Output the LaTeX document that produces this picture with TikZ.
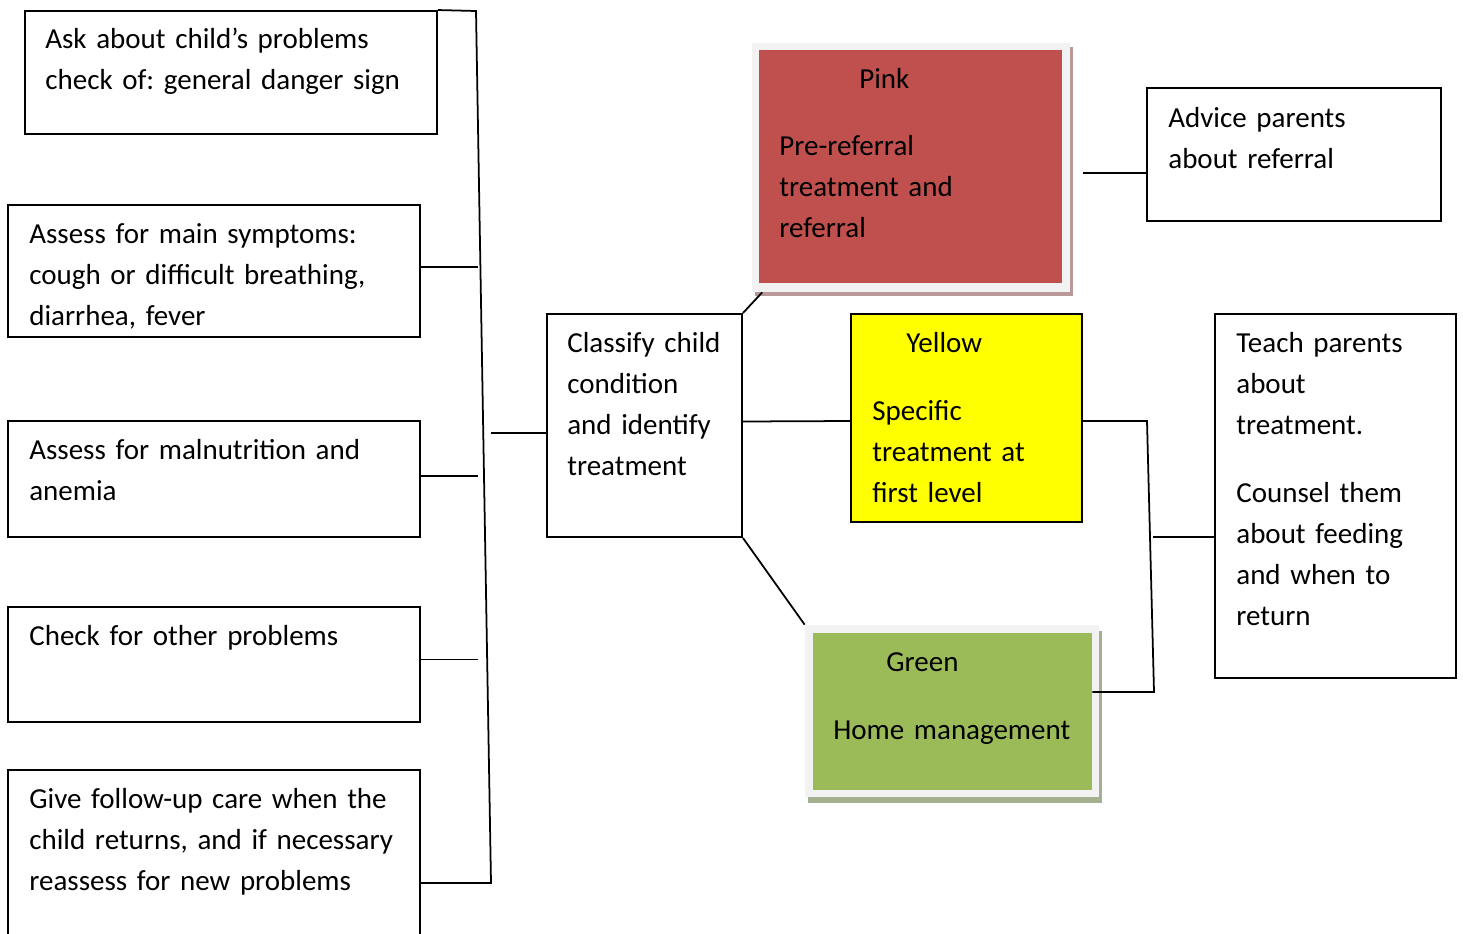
\documentclass[tikz,border=0pt]{standalone}
\usepackage{fontspec}
\setmainfont[WordSpace=0.85]{Carlito}
\usetikzlibrary{fit}

\definecolor{pinkred}{HTML}{C0504D}
\definecolor{pinkshade}{RGB}{184,152,152}
\definecolor{greenfill}{HTML}{9BBB59}
\definecolor{greenshade}{RGB}{165,176,145}
\definecolor{framegray}{HTML}{F2F2F2}
\definecolor{pureyellow}{HTML}{FFFF00}

\tikzset{
    box/.style={draw, line width=1.1pt, inner sep=0pt},
    plainbox/.style={inner sep=0pt},
    txt/.style={anchor=base west, inner sep=0pt, align=left, text width=12cm,
        font=\fontsize{16.5}{23.5}\selectfont\frenchspacing},
    link/.style={line width=1pt}
}

\begin{document}
\begin{tikzpicture}[x=0.02cm, y=-0.02cm]
            \useasboundingbox (0,0) rectangle (1463,933);

            % Left column
            \node[box, fit={(25,11) (437,134)}] (ask) {};
            \node[box, fit={(8,205) (420,337)}] (symptoms) {};
            \node[box, fit={(8,421) (420,537)}] (malnut) {};
            \node[box, fit={(8,607) (420,722)}] (other) {};
            \node[box, fit={(8,770) (420,950)}] (followup) {};

            \node[txt] (askT) at (45,48) {Ask about child’s problems\\check of: general danger sign};
            \node[txt] (symptomsT) at (29,243) {Assess for main symptoms:\\cough or difficult breathing,\\diarrhea, fever};
            \node[txt] (malnutT) at (29,459) {Assess for malnutrition and\\anemia};
            \node[txt] (otherT) at (29,645) {Check for other problems};
            \node[txt] (followupT) at (29,808) {Give follow-up care when the\\child returns, and if necessary\\reassess for new problems};

            % Left bracket
            \coordinate (btop) at (476,11);
            \coordinate (bbot) at (491,883);
            \coordinate (bmid) at (491,433);
            \draw[link] (ask.north east) -- (btop) -- (bbot) -- (followup.east |- bbot);
            \draw[link] (symptoms.east) ++(0,-4) -- ++(57,0);
            \draw[link] (malnut.east) ++(0,-3) -- ++(57,0);
            \draw[link] (other.east) ++(0,-5) -- ++(57,0);

            % Middle
            \node[box, fit={(547,314) (742,537)}] (classify) {};
            \node[txt] (classifyT) at (567,352) {Classify child\\condition\\and identify\\treatment};
            \draw[link] (bmid) -- (bmid -| classify.west);

            % Pink
            \fill[pinkshade] (755,47) rectangle (1073,296);
            \node[plainbox, fill=framegray, fit={(752,43) (1070,292)}] (pink) {};
            \fill[pinkred] (759,50) rectangle (1062,283);
            \node[txt] (pinkH) at (859,88) {Pink};
            \node[txt] (pinkT) at (779,155) {Pre-referral\\treatment and\\referral};

            % Yellow
            \node[box, fill=pureyellow, fit={(851,314) (1082,522)}] (yellow) {};
            \node[txt] (yellowH) at (906,352) {Yellow};
            \node[txt] (yellowT) at (872,420) {Specific\\treatment at\\first level};

            % Green
            \fill[greenshade] (808,631) rectangle (1102,803);
            \node[plainbox, fill=framegray, fit={(805,625) (1099,797)}] (green) {};
            \fill[greenfill] (813,633) rectangle (1092,790);
            \node[txt] (greenH) at (886,671) {Green};
            \node[txt] (greenT) at (833,739) {Home management};

            \draw[link] (classify.north east) -- ([xshift=6]pink.south west);
            \draw[link] (classify.east) ++(0,-4) -- (yellow.west |- 0,421);
            \draw[link] (classify.south east) -- (green.north west);

            % Right column
            \node[box, fit={(1147,88) (1441,221)}] (advice) {};
            \node[txt] (adviceT) at (1168,127) {Advice parents\\about referral};
            \node[box, fit={(1215,314) (1456,678)}] (teach) {};
            \node[txt] (teachT) at (1236,352) {Teach parents\\about\\treatment.};
            \node[txt] (counselT) at (1236,502) {Counsel them\\about feeding\\and when to\\return};

            \coordinate (pout) at (1083,173);
            \draw[link] (pout) -- (pout -| advice.west);

            % Right bracket
            \coordinate (rtop) at (1147,421);
            \coordinate (rbot) at (1154,692);
            \coordinate (rmid) at (1153,537);
            \draw[link] (yellow.east |- rtop) -- (rtop) -- (rbot) -- ([xshift=-4]green.east |- rbot);
            \draw[link] (rmid) -- (rmid -| teach.west);
          \end{tikzpicture}
\end{document}
